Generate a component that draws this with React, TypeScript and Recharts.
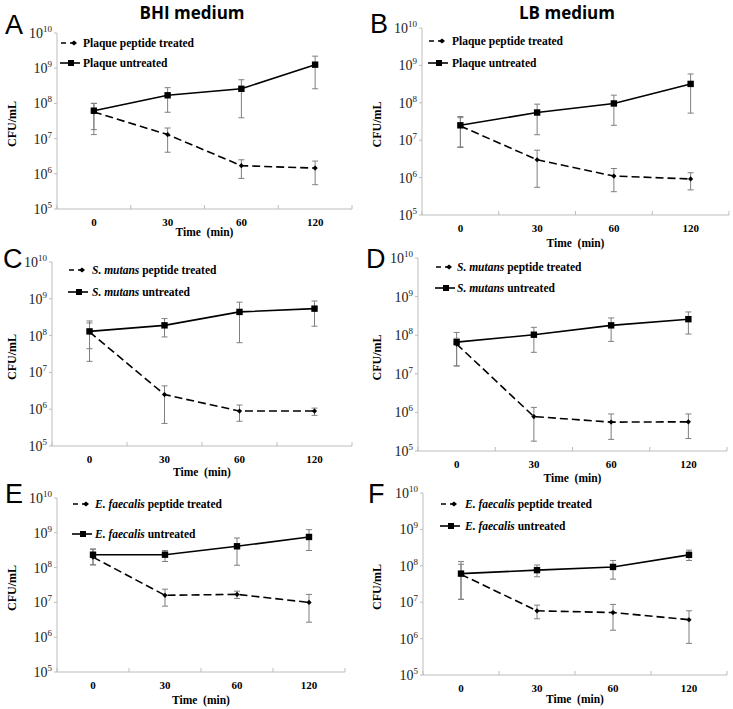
import React from 'react';
import { LineChart, Line, XAxis, YAxis, ErrorBar, Legend } from 'recharts';

const times = ['0', '30', '60', '120'];
const yTicks = [1e5, 1e6, 1e7, 1e8, 1e9, 1e10];

// A: plaque, BHI
const aTreated = [5.7e7, 1.3e7, 1.7e6, 1.45e6];
const aTreatedLow = [1.8e7, 4.1e6, 7.4e5, 4.9e5];
const aTreatedHigh = [1.0e8, 2.0e7, 2.5e6, 2.3e6];
const aUntreated = [6.2e7, 1.7e8, 2.6e8, 1.26e9];
const aUntreatedLow = [1.3e7, 5.6e7, 3.9e7, 2.6e8];
const aUntreatedHigh = [1.0e8, 2.8e8, 4.7e8, 2.2e9];

// B: plaque, LB
const bTreated = [2.4e7, 3.0e6, 1.1e6, 9.2e5];
const bTreatedLow = [6.4e6, 5.5e5, 4.2e5, 4.7e5];
const bTreatedHigh = [4.0e7, 5.4e6, 1.75e6, 1.35e6];
const bUntreated = [2.5e7, 5.5e7, 9.6e7, 3.2e8];
const bUntreatedLow = [6.6e6, 1.4e7, 2.5e7, 5.3e7];
const bUntreatedHigh = [4.3e7, 9.2e7, 1.6e8, 5.9e8];

// C: S. mutans, BHI
const cTreated = [1.26e8, 2.5e6, 8.9e5, 8.9e5];
const cTreatedLow = [2.0e7, 4.1e5, 4.7e5, 6.8e5];
const cTreatedHigh = [2.2e8, 4.3e6, 1.3e6, 1.07e6];
const cUntreated = [1.3e8, 1.9e8, 4.4e8, 5.4e8];
const cUntreatedLow = [4.4e7, 9.2e7, 6.4e7, 1.8e8];
const cUntreatedHigh = [2.5e8, 2.9e8, 8.1e8, 8.7e8];

// D: S. mutans, LB
const dTreated = [5.9e7, 7.8e5, 5.6e5, 5.7e5];
const dTreatedLow = [1.6e7, 1.8e5, 2.0e5, 2.1e5];
const dTreatedHigh = [8.3e7, 1.35e6, 9.1e5, 9.1e5];
const dUntreated = [6.6e7, 1.03e8, 1.8e8, 2.6e8];
const dUntreatedLow = [1.6e7, 3.6e7, 6.9e7, 1.07e8];
const dUntreatedHigh = [1.18e8, 1.6e8, 2.8e8, 4.0e8];

// E: E. faecalis, BHI
const eTreated = [2.0e8, 1.6e7, 1.7e7, 1.0e7];
const eTreatedLow = [1.2e8, 7.8e6, 1.3e7, 2.7e6];
const eTreatedHigh = [3.4e8, 2.4e7, 2.1e7, 1.7e7];
const eUntreated = [2.35e8, 2.35e8, 4.1e8, 7.6e8];
const eUntreatedLow = [1.2e8, 1.5e8, 1.17e8, 3.1e8];
const eUntreatedHigh = [3.4e8, 3.1e8, 7.1e8, 1.23e9];

// F: E. faecalis, LB
const fTreated = [5.8e7, 5.8e6, 5.2e6, 3.3e6];
const fTreatedLow = [1.2e7, 3.5e6, 1.7e6, 7.4e5];
const fTreatedHigh = [1.1e8, 8.3e6, 8.7e6, 5.8e6];
const fUntreated = [6.1e7, 7.6e7, 9.3e7, 2.0e8];
const fUntreatedLow = [1.2e7, 5.0e7, 4.3e7, 1.4e8];
const fUntreatedHigh = [1.3e8, 1.05e8, 1.4e8, 2.7e8];

const AXIS = '#bdbdbd';
const ERR = '#7f7f7f';
const SERIF = '"Liberation Serif", "Times New Roman", serif';

function buildRows(tr: number[], trLo: number[], trHi: number[], un: number[], unLo: number[], unHi: number[]) {
  return times.map((t, i) => ({
    i,
    t,
    treated: tr[i],
    treatedErr: [tr[i] - trLo[i], trHi[i] - tr[i]],
    untreated: un[i],
    untreatedErr: [un[i] - unLo[i], unHi[i] - un[i]],
  }));
}

const SquareDot = (p: any) => {
  if (p.cx == null || p.cy == null) return <g key={p.key} />;
  return <rect key={p.key} x={p.cx - 3.2} y={p.cy - 3.2} width={6.4} height={6.4} fill="#000" />;
};

const DiamondDot = (p: any) => {
  if (p.cx == null || p.cy == null) return <g key={p.key} />;
  const r = 2.6;
  return (
    <path
      key={p.key}
      d={`M${p.cx - r},${p.cy} L${p.cx},${p.cy - r} L${p.cx + r},${p.cy} L${p.cx},${p.cy + r} Z`}
      fill="#000"
    />
  );
};

const XTick = (p: any) => {
  const v = p.payload.value;
  if (Number.isInteger(v)) {
    return (
      <text x={p.x} y={p.y + 17} textAnchor="middle" fontFamily={SERIF} fontWeight="bold" fontSize={11} fill="#000">
        {times[v]}
      </text>
    );
  }
  return <line x1={p.x} x2={p.x} y1={p.y - 4} y2={p.y} stroke={AXIS} />;
};

const YTick = (p: any) => {
  const exp = Math.round(Math.log10(p.payload.value));
  return (
    <text x={p.x} y={p.y} dy={5} textAnchor="end" fontFamily={SERIF} fontSize={14} fill="#222">
      10
      <tspan fontSize={9} dy={-6}>
        {exp}
      </tspan>
    </text>
  );
};

type PanelProps = {
  colLeft: number;
  width: number;
  px0: number;
  px1: number;
  py0: number;
  py1: number;
  xLabelOff: number;
  symX: number;
  textX: number;
  leg1: number;
  leg2: number;
  species: string;
  italic: boolean;
  rows: any[];
};

const LegendSymbol = ({ dashed, w }: { dashed: boolean; w: number }) => (
  <svg width={w} height={16} style={{ display: 'block', flex: 'none' }}>
    {dashed ? (
      <>
        <line x1={1} x2={19} y1={8} y2={8} stroke="#000" strokeWidth={1.6} strokeDasharray="5 4" />
        <path d="M11,8 L14,5.5 L17,8 L14,10.5 Z" fill="#000" />
      </>
    ) : (
      <>
        <line x1={0} x2={20} y1={8} y2={8} stroke="#000" strokeWidth={1.6} />
        <rect x={8} y={5} width={6} height={6} fill="#000" />
      </>
    )}
  </svg>
);

const Panel = (props: PanelProps) => {
  const { colLeft, width, px0, px1, py0, py1, xLabelOff, symX, textX, leg1, leg2, species, italic, rows } = props;
  const top = py0 - 10;
  const height = py1 - py0 + 10 + 40;
  const name = italic ? <i>{species}</i> : <span>{species}</span>;

  const legendContent = () => (
    <div style={{ fontFamily: SERIF, fontWeight: 'bold', fontSize: 11.5, color: '#000' }}>
      <div style={{ display: 'flex', alignItems: 'center', height: 16 }}>
        <LegendSymbol dashed w={textX - symX} />
        <span style={{ whiteSpace: 'nowrap' }}>
          {name} peptide treated
        </span>
      </div>
      <div style={{ display: 'flex', alignItems: 'center', height: 16, marginTop: leg2 - leg1 - 16 }}>
        <LegendSymbol dashed={false} w={textX - symX} />
        <span style={{ whiteSpace: 'nowrap' }}>
          {name} untreated
        </span>
      </div>
    </div>
  );

  return (
    <div style={{ position: 'absolute', left: colLeft, top }}>
      <LineChart
        width={width}
        height={height}
        data={rows}
        margin={{ top: 10, right: colLeft + width - px1, left: px0 - colLeft - 45, bottom: 0 }}
      >
        <XAxis
          dataKey="i"
          type="number"
          domain={[-0.5, 3.5]}
          ticks={[-0.5, 0, 0.5, 1, 1.5, 2, 2.5, 3, 3.5]}
          interval={0}
          height={40}
          tickLine={false}
          tickSize={0}
          tickMargin={0}
          axisLine={{ stroke: AXIS }}
          tick={XTick}
          label={{
            content: (lp: any) => {
              const vb = lp.viewBox;
              return (
                <text
                  x={vb.x + vb.width / 2}
                  y={vb.y + xLabelOff + 4}
                  textAnchor="middle"
                  fontFamily={SERIF}
                  fontWeight="bold"
                  fontSize={11.5}
                  fill="#000"
                  style={{ whiteSpace: 'pre' }}
                >
                  {'Time  (min)'}
                </text>
              );
            },
          }}
        />
        <YAxis
          type="number"
          scale="log"
          domain={[1e5, 1e10]}
          ticks={yTicks}
          interval={0}
          allowDataOverflow
          width={45}
          tickSize={3}
          tickMargin={2}
          tickLine={{ stroke: AXIS }}
          axisLine={{ stroke: AXIS }}
          tick={YTick}
          label={{
            content: (lp: any) => {
              const vb = lp.viewBox;
              const cy = vb.y + vb.height / 2 + 3;
              const cx = 12;
              return (
                <text
                  x={cx}
                  y={cy}
                  transform={`rotate(-90 ${cx} ${cy})`}
                  textAnchor="middle"
                  dominantBaseline="central"
                  fontFamily={SERIF}
                  fontWeight="bold"
                  fontSize={12}
                  fill="#000"
                >
                  CFU/mL
                </text>
              );
            },
          }}
        />
        <Legend
          layout="vertical"
          align="center"
          verticalAlign="middle"
          content={legendContent}
          wrapperStyle={{ left: symX - colLeft, top: leg1 - 8 - top, width: 280, height: 'auto' }}
        />
        <Line
          dataKey="treated"
          stroke="#000"
          strokeWidth={1.6}
          strokeDasharray="8 4"
          dot={DiamondDot}
          isAnimationActive={false}
        >
          <ErrorBar dataKey="treatedErr" direction="y" width={3} stroke={ERR} strokeWidth={1} />
        </Line>
        <Line dataKey="untreated" stroke="#000" strokeWidth={1.6} dot={SquareDot} isAnimationActive={false}>
          <ErrorBar dataKey="untreatedErr" direction="y" width={3} stroke={ERR} strokeWidth={1} />
        </Line>
      </LineChart>
    </div>
  );
};

const panels: PanelProps[] = [
  { colLeft: 0, width: 365, px0: 57, px1: 352, py0: 33, py1: 209, xLabelOff: 23, symX: 60, textX: 83, leg1: 43, leg2: 63, species: 'Plaque', italic: false, rows: buildRows(aTreated, aTreatedLow, aTreatedHigh, aUntreated, aUntreatedLow, aUntreatedHigh) },
  { colLeft: 365, width: 368, px0: 422, px1: 729, py0: 28, py1: 215, xLabelOff: 28, symX: 428, textX: 452, leg1: 41, leg2: 63, species: 'Plaque', italic: false, rows: buildRows(bTreated, bTreatedLow, bTreatedHigh, bUntreated, bUntreatedLow, bUntreatedHigh) },
  { colLeft: 0, width: 365, px0: 52, px1: 352, py0: 262, py1: 446, xLabelOff: 26, symX: 68, textX: 92, leg1: 270, leg2: 292, species: 'S. mutans', italic: true, rows: buildRows(cTreated, cTreatedLow, cTreatedHigh, cUntreated, cUntreatedLow, cUntreatedHigh) },
  { colLeft: 365, width: 368, px0: 418, px1: 727, py0: 258, py1: 451, xLabelOff: 27, symX: 435, textX: 457, leg1: 267, leg2: 288, species: 'S. mutans', italic: true, rows: buildRows(dTreated, dTreatedLow, dTreatedHigh, dUntreated, dUntreatedLow, dUntreatedHigh) },
  { colLeft: 0, width: 365, px0: 57, px1: 345, py0: 498, py1: 672, xLabelOff: 28, symX: 72, textX: 95, leg1: 504, leg2: 534, species: 'E. faecalis', italic: true, rows: buildRows(eTreated, eTreatedLow, eTreatedHigh, eUntreated, eUntreatedLow, eUntreatedHigh) },
  { colLeft: 365, width: 368, px0: 423, px1: 727, py0: 493, py1: 675, xLabelOff: 24, symX: 440, textX: 465, leg1: 504, leg2: 526, species: 'E. faecalis', italic: true, rows: buildRows(fTreated, fTreatedLow, fTreatedHigh, fUntreated, fUntreatedLow, fUntreatedHigh) },
];

const letters = [
  { t: 'A', x: 5, y: 34 },
  { t: 'B', x: 370, y: 33 },
  { t: 'C', x: 3, y: 268 },
  { t: 'D', x: 366, y: 268 },
  { t: 'E', x: 5, y: 503 },
  { t: 'F', x: 368, y: 503 },
];

export default function App() {
  return (
    <div style={{ position: 'absolute', left: 0, top: 0, width: 733, height: 709, background: '#fff', overflow: 'hidden' }}>
      {panels.map((p, k) => (
        <Panel key={k} {...p} />
      ))}
      <svg width={733} height={709} style={{ position: 'absolute', left: 0, top: 0, pointerEvents: 'none' }}>
        <text x={192} y={19} textAnchor="middle" fontFamily='"Open Sans", sans-serif' fontWeight={700} fontSize={17} fill="#000">
          BHI medium
        </text>
        <text x={567} y={19} textAnchor="middle" fontFamily='"Open Sans", sans-serif' fontWeight={700} fontSize={17} fill="#000">
          LB medium
        </text>
        {letters.map((l) => (
          <text key={l.t} x={l.x} y={l.y} fontFamily='"Liberation Sans", Arial, sans-serif' fontSize={27} fill="#000">
            {l.t}
          </text>
        ))}
      </svg>
    </div>
  );
}
